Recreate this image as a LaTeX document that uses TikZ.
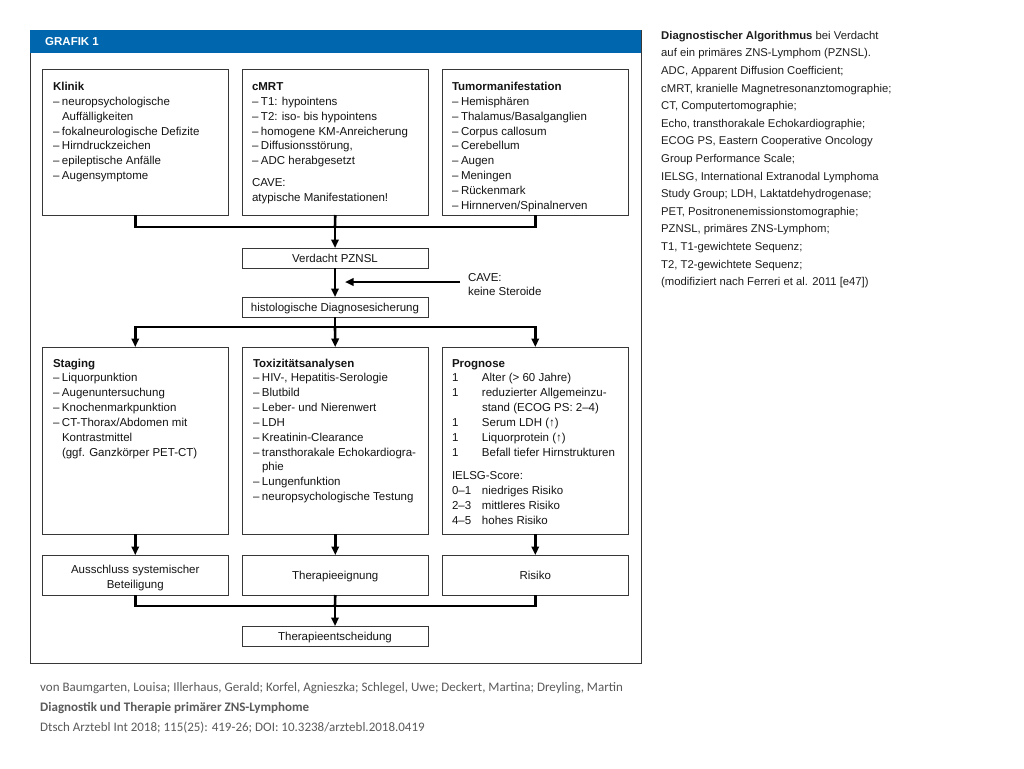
\documentclass[tikz,border=0pt]{standalone}
\usepackage{fontspec}
\setmainfont{Liberation Sans}
\newfontfamily\capfont{Carlito}
\usetikzlibrary{arrows.meta}
\definecolor{hdrblue}{RGB}{0,102,174}
\definecolor{boxline}{RGB}{55,55,55}
\definecolor{txt}{RGB}{20,20,20}
\definecolor{legtxt}{RGB}{30,30,30}
\definecolor{captxt}{RGB}{90,90,90}
\newcommand{\dsh}{\makebox[9pt][l]{–}}
\newcommand{\ind}{\hspace*{9pt}}
\newcommand{\num}[1]{\makebox[30pt][l]{#1}}
\newcommand{\fst}{\rule{0pt}{9pt}}
\begin{document}
\begin{tikzpicture}[x=1pt,y=-1pt,
  box/.style={draw=boxline,line width=0.9pt,inner sep=0pt,outer sep=0pt,anchor=north west,text=txt,
    font=\fontsize{11.5}{14.8}\selectfont,align=center},
  bigbox/.style={box,minimum width=186.5pt,minimum height=146pt},
  midbox/.style={box,minimum width=186.5pt,minimum height=187pt},
  resbox/.style={box,minimum width=186.5pt,minimum height=40pt},
  smallbox/.style={box,minimum width=186pt,minimum height=20pt,text height=9pt,text depth=1pt},
  txtblock/.style={anchor=north west,inner sep=0pt,outer sep=0pt,align=left,text=txt,
    font=\fontsize{11.5}{14.85}\selectfont},
  conn/.style={line width=2.6pt,draw=black,line join=miter},
  arr/.style={conn,-{Triangle[length=8.5pt,width=7.5pt]}}
]
\useasboundingbox[fill=white] (0,0) rectangle (1024,768);

% frame and header
\node[draw=boxline,line width=1.2pt,anchor=north west,minimum width=611pt,minimum height=633pt,inner sep=0pt] (frame) at (29.5,30) {};
\node[fill=hdrblue,anchor=north west,minimum width=611pt,minimum height=23pt,inner sep=0pt] (hdr) at (29.5,30) {};
\node[anchor=west,inner sep=0pt,text=white,font=\bfseries\fontsize{11.5}{12}\selectfont] (hdrT) at (45,42) {GRAFIK 1};

% top row
\node[bigbox] (klinik) at (42,69) {};
\node[bigbox] (cmrt) at (242,69) {};
\node[bigbox] (tumor) at (442,69) {};
\node[txtblock] (klinikT) at (53,81.5) {\fst\textbf{Klinik}\\
\dsh neuropsychologische\\ \ind Auffälligkeiten\\
\dsh fokalneurologische Defizite\\
\dsh Hirndruckzeichen\\
\dsh epileptische Anfälle\\
\dsh Augensymptome};
\node[txtblock] (cmrtT) at (252,81.5) {\fst\textbf{cMRT}\\
\dsh T1: hypointens\\
\dsh T2: iso- bis hypointens\\
\dsh homogene KM-Anreicherung\\
\dsh Diffusionsstörung,\\
\dsh ADC herabgesetzt\\[7pt]
CAVE:\\
atypische Manifestationen!};
\node[txtblock] (tumorT) at (452,81.5) {\fst\textbf{Tumormanifestation}\\
\dsh Hemisphären\\
\dsh Thalamus/Basalganglien\\
\dsh Corpus callosum\\
\dsh Cerebellum\\
\dsh Augen\\
\dsh Meningen\\
\dsh Rückenmark\\
\dsh Hirnnerven/Spinalnerven};

% middle
\node[smallbox] (verdacht) at (242,248) {Verdacht PZNSL};
\node[smallbox] (histo) at (242,297) {histologische Diagnosesicherung};
\node[txtblock,font=\fontsize{11.5}{14.3}\selectfont] (caveT) at (468,272.5) {\fst CAVE:\\keine Steroide};
\coordinate (j1) at (335,227);
\coordinate (j2) at (335,327);
\coordinate (cavefrom) at (460,282);
\coordinate (cavetip) at (345,282);

% second row
\node[midbox] (staging) at (42,347) {};
\node[midbox] (tox) at (242,347) {};
\node[midbox] (prog) at (442,347) {};
\node[txtblock] (stagingT) at (53,358) {\fst\textbf{Staging}\\
\dsh Liquorpunktion\\
\dsh Augenuntersuchung\\
\dsh Knochenmarkpunktion\\
\dsh CT-Thorax/Abdomen mit\\
\ind Kontrastmittel\\
\ind (ggf. Ganzkörper PET-CT)};
\node[txtblock] (toxT) at (253,358) {\fst\textbf{Toxizitätsanalysen}\\
\dsh HIV-, Hepatitis-Serologie\\
\dsh Blutbild\\
\dsh Leber- und Nierenwert\\
\dsh LDH\\
\dsh Kreatinin-Clearance\\
\dsh transthorakale Echokardiogra-\\
\ind phie\\
\dsh Lungenfunktion\\
\dsh neuropsychologische Testung};
\node[txtblock] (progT) at (452,358) {\fst\textbf{Prognose}\\
\num{1}Alter (> 60 Jahre)\\
\num{1}reduzierter Allgemeinzu-\\
\hspace*{30pt}stand (ECOG PS: 2–4)\\
\num{1}Serum LDH (↑)\\
\num{1}Liquorprotein (↑)\\
\num{1}Befall tiefer Hirnstrukturen\\[8.5pt]
IELSG-Score:\\
\num{0–1}niedriges Risiko\\
\num{2–3}mittleres Risiko\\
\num{4–5}hohes Risiko};

% third row
\node[resbox] (aus) at (42,555) {\rule{0pt}{15pt}Ausschluss systemischer\\Beteiligung};
\node[resbox,text height=9pt,text depth=1pt] (eign) at (242,555) {Therapieeignung};
\node[resbox,text height=9pt,text depth=1pt] (risk) at (442,555) {Risiko};
\node[smallbox] (entsch) at (242,626) {Therapieentscheidung};
\coordinate (j3) at (335,606);

% connectors
\draw[conn] (klinik.south) |- (j1) -| (tumor.south);
\draw[conn] (cmrt.south) -- (j1);
\draw[arr] (j1) -- (verdacht.north);
\draw[arr] (verdacht.south) -- (histo.north);
\draw[arr] (cavefrom) -- (cavetip);
\draw[conn] (histo.south) -- (j2);
\draw[arr] (j2) -| (staging.north);
\draw[arr] (j2) -| (prog.north);
\draw[arr] (j2) -- (tox.north);
\draw[arr] (staging.south) -- (aus.north);
\draw[arr] (tox.south) -- (eign.north);
\draw[arr] (prog.south) -- (risk.north);
\draw[conn] (aus.south) |- (j3) -| (risk.south);
\draw[conn] (eign.south) -- (j3);
\draw[arr] (j3) -- (entsch.north);

% legend
\node[anchor=north west,inner sep=0pt,align=left,text=legtxt,font=\fontsize{11.3}{17.6}\selectfont] (legend) at (661,30) {\fst\textbf{Diagnostischer Algorithmus} bei Verdacht\\
auf ein primäres ZNS-Lymphom (PZNSL).\\
ADC, Apparent Diffusion Coefficient;\\
cMRT, kranielle Magnetresonanztomographie;\\
CT, Computertomographie;\\
Echo, transthorakale Echokardiographie;\\
ECOG PS, Eastern Cooperative Oncology\\
Group Performance Scale;\\
IELSG, International Extranodal Lymphoma\\
Study Group; LDH, Laktatdehydrogenase;\\
PET, Positronenemissionstomographie;\\
PZNSL, primäres ZNS-Lymphom;\\
T1, T1-gewichtete Sequenz;\\
T2, T2-gewichtete Sequenz;\\
(modifiziert nach Ferreri et al. 2011 [e47])};

% caption
\node[anchor=north west,inner sep=0pt,align=left,text=captxt,font=\capfont\fontsize{13}{20.3}\selectfont] (caption) at (40,682) {\fst von Baumgarten, Louisa; Illerhaus, Gerald; Korfel, Agnieszka; Schlegel, Uwe; Deckert, Martina; Dreyling, Martin\\
\textbf{Diagnostik und Therapie primärer ZNS-Lymphome}\\
Dtsch Arztebl Int 2018; 115(25): 419-26; DOI: 10.3238/arztebl.2018.0419};
\end{tikzpicture}
\end{document}
